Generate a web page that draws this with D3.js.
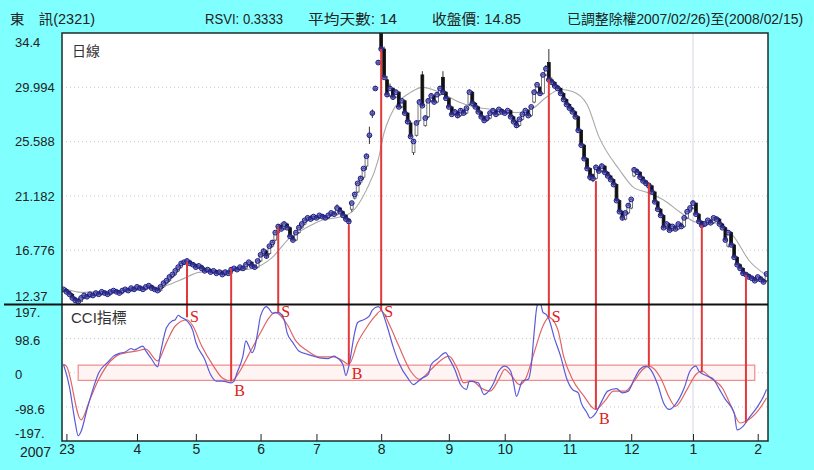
<!DOCTYPE html>
<meta charset="utf-8">
<style>
    body { margin: 0; background: #80ffff; }
    text { font-family: "Liberation Sans", "Noto Sans CJK TC", sans-serif; fill: #222; }
</style>
<body>
<div class="chart"></div>
<script src="https://d3js.org/d3.v7.min.js"></script>
<script>

    // daily prices, 2007/02/26 .. 2008/02/15 (trading day index = array position)
    const opens = [
        13.5,13.6,13.4,13.2,12.9,12.8,12.6,12.9,13.1,13.0, 13.2,13.1,13.3,13.2,13.4,13.3,13.2,13.4,13.5,13.4,
        13.3,13.5,13.6,13.5,13.7,13.6,13.8,13.7,13.6,13.8, 13.9,13.7,13.6,13.5,13.8,14.1,14.3,14.6,14.8,15.1,
        15.4,15.7,15.8,15.9,15.7,15.6,15.4,15.5,15.3,15.1, 15.2,15.0,15.1,14.9,15.0,14.8,15.0,14.9,15.2,15.3,
        15.2,15.4,15.3,15.6,15.8,15.5,15.4,15.9,16.4,16.7, 16.5,17.1,17.6,18.2,18.8,18.5,18.9,18.6,17.9,17.6,
        18.2,18.6,18.9,19.2,19.5,19.3,19.5,19.4,19.6,19.5, 19.4,19.6,19.8,19.7,20.2,19.9,19.6,19.3,20.1,21.0,
        21.5,22.3,22.7,23.6,26.1,27.9,29.9,32.0,34.4,33.1, 30.6,29.3,29.9,29.2,29.6,28.4,28.9,27.9,27.1,24.7,
        26.1,27.3,31.0,26.9,27.6,28.9,29.3,28.8,29.4,30.8, 29.6,29.1,28.4,27.8,28.0,27.7,28.1,27.9,28.6,29.6,
        28.7,28.4,28.0,27.6,27.3,27.5,27.9,28.1,27.8,28.2, 28.0,27.9,28.1,27.6,27.2,26.9,27.4,27.8,28.1,27.7,
        28.8,29.6,30.0,29.5,31.0,32.0,30.6,30.4,30.1,29.9, 29.5,29.0,28.6,28.3,28.0,27.6,26.5,25.3,24.2,23.4,
        22.9,22.6,23.5,23.2,23.6,23.1,22.8,22.5,22.1,20.8, 19.9,19.3,19.8,20.2,22.8,23.3,23.1,22.7,22.4,22.2,
        22.0,21.5,20.7,20.1,19.6,18.6,18.9,18.4,18.7,18.5, 18.9,18.7,19.4,19.9,20.2,20.6,19.7,19.1,18.8,18.9,
        19.2,19.0,19.4,19.3,18.9,18.6,17.1,18.2,17.2,16.2, 15.6,15.3,14.9,14.8,14.6,14.5,14.3,14.6,14.4,14.3
    ];
    const highs = [
        13.7,13.7,13.5,13.3,13.0,12.9,13.0,13.2,13.2,13.3, 13.3,13.4,13.4,13.5,13.5,13.4,13.5,13.6,13.6,13.5,
        13.6,13.7,13.7,13.8,13.8,13.9,13.9,13.8,13.9,14.0, 14.0,13.8,13.7,13.9,14.2,14.4,14.7,14.9,15.2,15.5,
        15.8,15.9,16.1,16.0,15.8,15.7,15.6,15.6,15.4,15.3, 15.3,15.2,15.2,15.1,15.1,15.1,15.1,15.3,15.4,15.4,
        15.5,15.5,15.7,15.9,15.9,15.6,16.0,16.5,16.9,16.8, 17.2,17.6,18.3,18.9,19.0,19.1,19.0,18.7,18.0,18.3,
        18.7,19.0,19.3,19.5,19.6,19.6,19.6,19.7,19.7,19.6, 19.7,19.9,19.9,20.5,20.3,20.0,19.7,19.4,20.7,21.5,
        22.3,22.8,23.5,24.6,26.8,28.2,30.1,32.2,34.4,33.3, 30.9,30.3,30.0,29.8,29.7,29.0,29.0,28.0,27.3,25.8,
        27.3,29.0,31.3,27.7,29.1,29.5,29.4,29.6,30.1,31.3, 29.7,29.2,28.5,28.2,28.1,28.3,28.2,28.4,29.8,29.7,
        28.8,28.5,28.1,27.7,27.6,28.0,28.2,28.2,28.3,28.3, 28.1,28.2,28.2,27.7,27.3,27.5,27.9,28.2,28.2,28.5,
        29.8,30.3,30.1,31.1,31.8,33.1,30.8,30.5,30.2,30.0, 29.6,29.1,28.7,28.4,28.1,27.7,26.6,25.4,24.3,23.5,
        23.0,23.7,23.6,23.8,23.7,23.2,22.9,22.6,22.2,20.9, 20.0,19.9,20.6,21.0,23.5,23.4,23.2,22.8,22.5,22.3,
        22.1,21.6,20.8,20.2,19.7,19.0,19.0,18.8,18.8,19.0, 19.0,19.5,20.0,20.3,20.8,20.6,19.8,19.2,19.0,19.3,
        19.3,19.5,19.5,19.4,19.0,18.7,18.3,18.3,17.3,16.3, 15.7,15.4,15.0,14.9,14.7,14.6,14.7,14.7,14.5,14.9
    ];
    const lows = [
        13.4,13.3,13.1,12.8,12.6,12.5,12.6,12.8,12.9,12.9, 13.0,13.0,13.1,13.1,13.2,13.1,13.1,13.3,13.3,13.2,
        13.2,13.4,13.4,13.4,13.5,13.5,13.6,13.5,13.5,13.7, 13.6,13.5,13.4,13.4,13.7,14.0,14.2,14.5,14.7,15.0,
        15.3,15.6,15.7,15.6,15.5,15.3,15.3,15.2,15.0,15.0, 14.9,14.9,14.8,14.8,14.7,14.7,14.8,14.8,15.1,15.1,
        15.1,15.2,15.2,15.5,15.4,15.3,15.3,15.8,16.3,16.1, 16.4,17.0,17.5,18.1,18.4,18.4,18.5,17.8,17.5,17.5,
        18.1,18.5,18.8,19.1,19.2,19.2,19.3,19.3,19.4,19.3, 19.3,19.5,19.6,19.6,19.8,19.5,19.2,18.8,19.9,20.9,
        21.4,22.1,22.5,23.3,25.4,27.5,29.9,32.0,32.9,30.7, 29.2,29.2,29.0,29.1,28.3,28.3,27.8,27.0,25.9,24.5,
        26.0,27.2,28.4,26.8,27.5,28.8,28.7,28.7,29.3,29.4, 29.0,28.3,27.7,27.7,27.5,27.6,27.8,27.8,28.5,28.6,
        28.3,27.9,27.5,27.2,27.2,27.4,27.8,27.7,27.7,27.9, 27.8,27.8,27.5,27.1,26.7,26.8,27.3,27.7,27.6,27.6,
        28.7,29.5,29.4,29.4,30.9,30.5,30.2,30.0,29.8,29.4, 28.9,28.5,28.2,27.9,27.5,26.4,25.2,24.1,23.3,22.4,
        22.3,22.5,23.1,23.1,23.0,22.7,22.4,22.0,20.7,19.8, 19.2,19.2,19.7,20.1,22.7,23.0,22.6,22.3,22.1,21.9,
        21.4,20.6,20.0,19.5,18.5,18.5,18.3,18.3,18.4,18.4, 18.6,18.6,19.3,19.8,20.1,19.6,19.0,18.7,18.7,18.8,
        18.9,18.9,19.2,18.8,18.5,17.5,17.0,17.1,16.1,15.5, 15.2,14.8,14.7,14.5,14.4,14.2,14.2,14.3,14.1,14.2
    ];
    const closes = [
        13.6,13.4,13.2,12.9,12.7,12.6,12.9,13.1,13.0,13.2, 13.1,13.3,13.2,13.4,13.3,13.2,13.4,13.5,13.4,13.3,
        13.5,13.6,13.5,13.7,13.6,13.8,13.7,13.6,13.8,13.9, 13.7,13.6,13.5,13.8,14.1,14.3,14.6,14.8,15.1,15.4,
        15.7,15.8,15.9,15.7,15.6,15.4,15.5,15.3,15.1,15.2, 15.0,15.1,14.9,15.0,14.8,15.0,14.9,15.2,15.3,15.2,
        15.4,15.3,15.6,15.8,15.5,15.4,15.9,16.4,16.7,16.3, 17.1,17.4,18.2,18.7,18.5,18.9,18.6,17.9,17.6,18.2,
        18.6,18.9,19.2,19.4,19.3,19.5,19.4,19.6,19.5,19.4, 19.6,19.8,19.7,20.2,19.9,19.6,19.3,19.1,20.6,21.3,
        22.2,22.6,23.4,24.4,26.1,27.9,29.9,32.0,33.1,30.8, 29.4,29.9,29.2,29.6,28.4,28.9,27.9,27.2,26.0,25.6,
        27.1,28.8,28.5,27.5,28.9,29.3,28.8,29.4,29.9,29.6, 29.1,28.4,27.8,28.0,27.7,28.1,27.9,28.3,29.6,28.7,
        28.4,28.0,27.6,27.3,27.5,27.9,28.1,27.8,28.2,28.0, 27.9,28.1,27.6,27.2,26.9,27.4,27.8,28.1,27.7,28.4,
        29.6,30.2,29.5,31.0,31.5,30.6,30.4,30.1,29.9,29.5, 29.0,28.6,28.3,28.0,27.6,26.5,25.3,24.2,23.4,22.7,
        22.6,23.5,23.2,23.6,23.1,22.8,22.5,22.1,20.8,19.9, 19.4,19.8,20.4,20.9,23.3,23.1,22.7,22.4,22.2,22.0,
        21.5,20.7,20.1,19.6,18.6,18.9,18.4,18.7,18.5,18.9, 18.7,19.4,19.9,20.2,20.6,19.7,19.1,18.8,18.9,19.2,
        19.0,19.4,19.3,18.9,18.6,17.6,18.2,17.2,16.2,15.6, 15.3,14.9,14.8,14.6,14.5,14.3,14.6,14.4,14.2,14.85
    ];

    // gray moving average, [day, price]
    const avgLine = [
        [1,13.6],[6,13.35],[12,13.43],[23,13.5],[29,13.67],[35,13.92],[41,14.49],[46,14.98],[57,15.14],[63,15.23],
        [71,16.2],[77,17.8],[83,18.65],[88,19.22],[94,19.47],[98,19.87],[103,21.67],[107,24.12],[109,26.32],[111,27.62],
        [114,28.85],[118,29.58],[122,29.99],[128,29.58],[134,28.85],[139,28.44],[146,28.19],[154,27.95],[160,28.36],[164,29.17],
        [169,29.82],[173,29.66],[178,28.6],[182,25.99],[189,23.3],[194,21.83],[198,21.5],[204,20.85],[210,19.79],[215,19.06],
        [222,18.98],[228,17.84],[233,15.96],[239,14.74]
    ];

    // CCI (blue) and its average (red), [day, value]
    const cciBlue = [
        [0,24],[2,-39],[4,-144],[5,-182],[6,-169],[8,-106],[10,-48],[12,0],[15,30],[17,48],[19,56],[21,60],[23,70],[24,66],
        [27,77],[28,63],[30,39],[32,17],[33,58],[35,130],[37,150],[38,153],[39,166],[40,160],[42,150],[44,121],[45,88],[48,39],
        [50,-5],[52,-24],[54,-24],[57,-29],[58,-24],[59,0],[61,48],[62,92],[63,77],[64,58],[65,72],[66,116],[67,164],[69,191],
        [70,183],[71,172],[73,174],[75,154],[76,116],[78,87],[80,63],[83,53],[85,48],[87,43],[90,41],[92,48],[93,43],[95,24],
        [96,-8],[97,19],[99,116],[100,145],[102,153],[104,164],[105,181],[107,191],[108,183],[110,135],[112,77],[114,29],
        [117,-15],[119,-34],[120,-29],[122,-15],[124,-5],[125,24],[127,39],[130,58],[131,43],[133,10],[135,-34],[137,-48],
        [138,-24],[141,-29],[143,-63],[144,-58],[146,-34],[148,5],[150,19],[152,5],[153,-29],[154,-68],[156,-24],[158,-19],
        [159,19],[160,116],[161,193],[162,205],[163,174],[164,169],[165,155],[167,97],[169,48],[171,-15],[173,-48],[175,-58],
        [176,-87],[178,-116],[179,-131],[181,-116],[183,-82],[185,-53],[188,-46],[190,-58],[192,-53],[194,-19],[196,10],
        [198,19],[199,15],[202,-34],[204,-87],[206,-106],[208,-92],[211,-44],[213,5],[215,19],[216,5],[219,-10],[221,-19],
        [223,-48],[225,-77],[228,-116],[229,-165],[231,-155],[233,-131],[236,-97],[238,-68],[239,-48]
    ];
    const cciRed = [
        [0,24],[1,19],[6,-136],[9,-77],[12,-19],[16,34],[19,53],[25,63],[28,68],[32,34],[35,87],[38,135],[42,153],[44,135],
        [47,77],[51,19],[54,-15],[57,-24],[60,5],[63,53],[67,116],[70,160],[72,174],[76,140],[79,92],[83,63],[87,46],[92,46],
        [95,34],[97,24],[100,87],[103,130],[106,164],[108,179],[111,135],[114,77],[118,5],[121,-19],[125,10],[128,34],[131,48],
        [134,10],[136,-29],[139,-24],[142,-44],[145,-53],[148,-19],[150,10],[152,-5],[155,-34],[157,-19],[160,58],[163,135],
        [165,160],[168,126],[170,48],[173,-19],[177,-68],[180,-102],[181,-106],[184,-82],[187,-53],[191,-53],[194,-24],[197,10],
        [199,19],[203,-15],[206,-73],[208,-97],[212,-48],[215,-5],[217,5],[220,-15],[224,-44],[227,-97],[230,-145],[232,-140],
        [236,-111],[239,-73]
    ];

    // buy / sell signals
    const signalDays  = [42, 57, 73, 97, 108, 165, 181, 199, 217, 232];
    const signalPrice = [15.82, 15.28, 18.67, 18.81, 33.09, 30.64, 22.4, 22.2, 18.8, 14.74];
    const signalCci   = [160, -24, 175, 24, 179, 160, -106, 19, 1, -144];
    const signalType  = ["S", "B", "S", "B", "S", "S", "B", "", "", ""];

    // axes
    const monthDays   = [1, 25, 45, 67, 86, 108, 131, 150, 172, 193, 214, 236];
    const monthLabels = ["23", "4", "5", "6", "7", "8", "9", "10", "11", "12", "1", "2"];
    const priceTicks  = [12.37, 16.776, 21.182, 25.588, 29.994, 34.4];
    const priceLabels = ["12.37", "16.776", "21.182", "25.588", "29.994", "34.4"];
    const cciTicks    = [-197, -98.6, 0, 98.6, 197];
    const cciLabels   = ["-197.", "-98.6", "0", "98.6", "197."];
    const cciBand     = [-22, 22];
    const yearDay     = 214;

    const headerItems = [
        {text: "東　訊(2321)", x: 10, w: 85},
        {text: "RSVI: 0.3333", x: 205, w: 78},
        {text: "平均天數: 14", x: 308, w: 89},
        {text: "收盤價: 14.85", x: 432, w: 89},
        {text: "已調整除權2007/02/26)至(2008/02/15)", x: 567, w: 236}
    ];

    let width = 814, height = 470;
    let plotLeft = 62, plotRight = 768, plotTop = 33, plotMid = 304.5, plotBottom = 441;

    let svg = d3.select(".chart").append("svg")
        .attr("width", width)
        .attr("height", height);

    svg.append("rect").attr("width", width).attr("height", height).attr("fill", "#80ffff");
    svg.append("rect").attr("x", plotLeft).attr("y", plotTop)
        .attr("width", plotRight - plotLeft).attr("height", plotBottom - plotTop).attr("fill", "#fff");

    let x = d3.scaleLinear().domain([-0.5, closes.length - 0.5]).range([plotLeft, plotRight]);
    let yP = d3.scaleLinear().domain([12.37, 34.4]).range([plotMid, plotTop]);
    let yC = d3.scaleLinear().domain([-197, 197]).range([plotBottom, plotMid]);

    let defs = svg.append("defs");
    defs.append("clipPath").attr("id", "clipP").append("rect")
        .attr("x", plotLeft).attr("y", plotTop).attr("width", plotRight - plotLeft).attr("height", plotMid - plotTop);
    defs.append("clipPath").attr("id", "clipC").append("rect")
        .attr("x", plotLeft).attr("y", plotMid).attr("width", plotRight - plotLeft).attr("height", plotBottom - plotMid);

    // grid
    svg.append("g").selectAll("line")
        .data(priceTicks.slice(1, -1))
        .join("line")
        .attr("x1", plotLeft).attr("x2", plotRight)
        .attr("y1", d => yP(d)).attr("y2", d => yP(d))
        .attr("stroke", "#c8c8c8").attr("stroke-dasharray", "1,3");
    svg.append("g").selectAll("line")
        .data(cciTicks.slice(1, -1))
        .join("line")
        .attr("x1", plotLeft).attr("x2", plotRight)
        .attr("y1", d => yC(d)).attr("y2", d => yC(d))
        .attr("stroke", "#c8c8c8").attr("stroke-dasharray", "1,3");

    svg.append("line")
        .attr("x1", x(yearDay)).attr("x2", x(yearDay))
        .attr("y1", plotTop).attr("y2", plotBottom)
        .attr("stroke", "#d4d4e4");

    // band around zero
    svg.append("rect")
        .attr("x", x(5)).attr("width", x(235) - x(5))
        .attr("y", yC(cciBand[1])).attr("height", yC(cciBand[0]) - yC(cciBand[1]))
        .attr("fill", "#fff4f4").attr("stroke", "#f08a8a").attr("stroke-width", 1.2);

    // price panel
    let gP = svg.append("g").attr("clip-path", "url(#clipP)");

    gP.append("path")
        .datum(avgLine)
        .attr("fill", "none").attr("stroke", "#a8a8a8").attr("stroke-width", 1.1)
        .attr("d", d3.line().x(d => x(d[0])).y(d => yP(d[1])).curve(d3.curveMonotoneX));

    let idx = d3.range(closes.length);
    gP.append("g").selectAll("line")
        .data(idx)
        .join("line")
        .attr("x1", i => x(i)).attr("x2", i => x(i))
        .attr("y1", i => yP(highs[i])).attr("y2", i => yP(lows[i]))
        .attr("stroke", "#333");
    gP.append("g").selectAll("rect")
        .data(idx)
        .join("rect")
        .attr("x", i => x(i) - 1.4).attr("width", 2.8)
        .attr("y", i => yP(Math.max(opens[i], closes[i])))
        .attr("height", i => Math.max(1, Math.abs(yP(opens[i]) - yP(closes[i]))))
        .attr("fill", i => closes[i] >= opens[i] ? "#fff" : "#111")
        .attr("stroke", i => closes[i] >= opens[i] ? "#555" : "#111")
        .attr("stroke-width", 0.8);
    gP.append("g").selectAll("circle")
        .data(idx)
        .join("circle")
        .attr("cx", i => x(i)).attr("cy", i => yP(closes[i]))
        .attr("r", 2.4)
        .attr("fill", "#4848b8").attr("fill-opacity", 0.6)
        .attr("stroke", "#1c1c88").attr("stroke-width", 1);

    // CCI panel
    let gC = svg.append("g").attr("clip-path", "url(#clipC)");
    let cciLine = d3.line().x(d => x(d[0])).y(d => yC(d[1])).curve(d3.curveMonotoneX);
    gC.append("path").datum(cciRed)
        .attr("fill", "none").attr("stroke", "#e06464").attr("stroke-width", 1.2)
        .attr("d", cciLine);
    gC.append("path").datum(cciBlue)
        .attr("fill", "none").attr("stroke", "#5a5ad8").attr("stroke-width", 1.2)
        .attr("d", cciLine);

    // signals
    let sig = signalDays.map((d, i) => ({day: d, p: signalPrice[i], c: signalCci[i], t: signalType[i]}));
    svg.append("g").selectAll("line")
        .data(sig)
        .join("line")
        .attr("x1", d => x(d.day)).attr("x2", d => x(d.day))
        .attr("y1", d => yP(d.p)).attr("y2", d => yC(d.c))
        .attr("stroke", "#e23a3a").attr("stroke-width", 2);
    svg.append("g").selectAll("text")
        .data(sig.filter(d => d.t))
        .join("text")
        .attr("x", d => x(d.day) + 3)
        .attr("y", d => d.t === "S" ? Math.max(yC(d.c) + 5, 317) : yC(d.c) + 15)
        .style("font-family", "'Liberation Serif', serif")
        .style("font-size", "16px")
        .style("fill", "#dd2020")
        .text(d => d.t);

    // frame
    svg.append("rect")
        .attr("x", plotLeft).attr("y", plotTop)
        .attr("width", plotRight - plotLeft).attr("height", plotBottom - plotTop)
        .attr("fill", "none").attr("stroke", "#1c2c2c").attr("stroke-width", 1.5);
    svg.append("line")
        .attr("x1", 4).attr("x2", plotRight).attr("y1", plotMid).attr("y2", plotMid)
        .attr("stroke", "#111").attr("stroke-width", 2);

    // y labels
    svg.append("g").selectAll("text")
        .data(priceTicks)
        .join("text")
        .attr("x", 15)
        .attr("y", (d, i) => yP(d) + (i === priceTicks.length - 1 ? 9 : i === 0 ? -8 : 0))
        .attr("dy", "0.36em")
        .style("font-size", "13px")
        .text((d, i) => priceLabels[i]);
    svg.append("g").selectAll("text")
        .data(cciTicks)
        .join("text")
        .attr("x", 15)
        .attr("y", (d, i) => yC(d) + (i === cciTicks.length - 1 ? 8 : i === 0 ? -8 : 2))
        .attr("dy", "0.36em")
        .style("font-size", "13px")
        .text((d, i) => cciLabels[i]);

    // month axis
    let xAxis = d3.axisBottom(x)
        .tickValues(monthDays)
        .tickFormat((d, i) => monthLabels[i])
        .tickSizeInner(-7)
        .tickSizeOuter(0)
        .tickPadding(3);
    let ax = svg.append("g").attr("transform", `translate(0,${plotBottom})`).call(xAxis);
    ax.select(".domain").remove();
    ax.selectAll(".tick line").attr("stroke", "#222");
    ax.selectAll(".tick text")
        .attr("fill", null)
        .style("font-size", "14px")
        .style("font-family", "'Liberation Sans', sans-serif");
    svg.append("text").attr("x", 20).attr("y", 457).style("font-size", "14px").text("2007");

    // panel titles
    svg.append("text").attr("x", 72).attr("y", 56).style("font-size", "14px").style("fill", "#333").text("日線");
    svg.append("text").attr("x", 71).attr("y", 323).style("font-size", "15px").style("fill", "#333").text("CCI指標");

    // header
    svg.append("g").selectAll("text")
        .data(headerItems)
        .join("text")
        .attr("x", d => d.x).attr("y", 24)
        .attr("textLength", d => d.w)
        .attr("lengthAdjust", "spacingAndGlyphs")
        .style("font-size", "14px")
        .text(d => d.text);

</script>
